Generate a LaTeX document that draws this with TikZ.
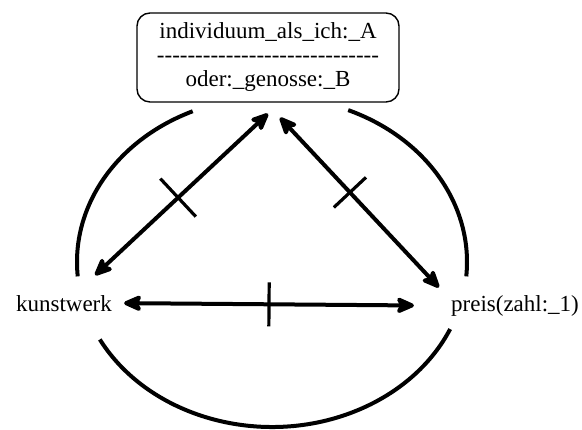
\documentclass[tikz,border=0pt]{standalone}
\usepackage{fontspec}
\setmainfont{Liberation Serif}[Ligatures=TeXOff]
\usetikzlibrary{arrows.meta,calc,decorations.markings}
\begin{document}
\begin{tikzpicture}[x=1pt,y=1pt,
  lbl/.style={inner sep=0pt, font=\fontsize{23}{24}\selectfont},
  boxnode/.style={draw, line width=1.4pt, rounded corners=13pt, minimum width=262pt, minimum height=89pt, inner sep=0pt, align=center, font=\fontsize{23}{24}\selectfont},
  link/.style={line width=4pt, {Stealth[length=22pt,width=19pt,inset=5pt,round]}-{Stealth[length=22pt,width=19pt,inset=5pt,round]}},
  crossmark/.style 2 args={postaction={decorate, decoration={markings, mark=at position #1 with {\draw[line width=3.2pt,-] (0,-#2) -- (0,#2);}}}},
  ring/.style={line width=4pt}
]
\useasboundingbox (0,0) rectangle (582,430);
\node[boxnode] (top) at (268,372.5) {individuum\_als\_ich:\_A\\-----------------------------\\oder:\_genosse:\_B};
\node[lbl, anchor=base] (kunst) at (64,118) {kunstwerk};
\node[lbl, anchor=base] (preis) at (515,118) {preis(zahl:\_1)};
\coordinate (c) at (272,168);
% ring around
\draw[ring] ([shift={(114:195 and 165)}]c) arc[start angle=114, end angle=185, x radius=195, y radius=165];
\draw[ring] ([shift={(-5:195 and 165)}]c) arc[start angle=-5, end angle=67, x radius=195, y radius=165];
\draw[ring] ([shift={(208:195 and 165)}]c) arc[start angle=208, end angle=336, x radius=195, y radius=165];
% connectors
\draw[link, crossmark={0.5}{22}] ($(kunst.east)+(12,1)$) -- ($(preis.west)+(-37,1)$);
\draw[link, crossmark={0.48}{26}] ($(kunst.east)+(-17,29)$) -- ($(top.south)+(0,-11)$);
\draw[link, crossmark={0.44}{22}] ($(top.south)+(12,-15)$) -- ($(preis.west)+(-12,19)$);
\end{tikzpicture}
\end{document}
